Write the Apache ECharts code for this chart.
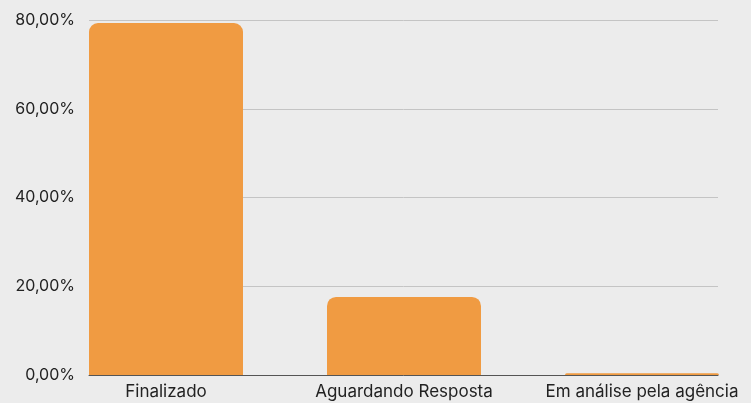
<!DOCTYPE html>
<html lang="pt">

<head>
    <meta charset="UTF-8">
    <title>Status</title>
    <style>
        html, body { margin: 0; padding: 0; background: #ececec; }
        #bar { width: 751px; height: 403px; }
    </style>
    <script src="https://cdn.jsdelivr.net/npm/echarts@6/dist/echarts.min.js"></script>
</head>

<body>
    <div id="bar"></div>
    <script>
        var categories = ['Finalizado', 'Aguardando Resposta', 'Em análise pela agência'];
        var percentValues = [79.3, 17.6, 0.4];
        var yTicks = [0, 20, 40, 60, 80];

        var fontFamily = 'Inter, "Noto Sans", sans-serif';

        function fmtPct(v) {
            return v.toFixed(2).replace('.', ',') + '%';
        }

        echarts.init(document.getElementById('bar')).setOption({
            backgroundColor: '#ececec',
            animation: false,
            grid: [
                // grid 0: gridlines + y labels, spans the bar extents
                { left: 89, right: 33, top: 20, bottom: 28, outerBoundsMode: 'none' },
                // grid 1: bars, wider so bars sit at the ends
                { left: 47, width: 714, top: 20, bottom: 28, outerBoundsMode: 'none' }
            ],
            xAxis: [
                {
                    gridIndex: 0,
                    type: 'category',
                    data: categories,
                    axisTick: { show: false },
                    axisLabel: { show: false },
                    axisLine: { show: true, lineStyle: { color: '#555', width: 1 } }
                },
                {
                    gridIndex: 1,
                    type: 'category',
                    data: categories,
                    axisTick: { show: false },
                    axisLine: { show: false },
                    axisLabel: {
                        color: '#222',
                        fontSize: 17,
                        fontFamily: fontFamily,
                        margin: 8,
                        interval: 0
                    }
                }
            ],
            yAxis: [
                {
                    gridIndex: 0,
                    type: 'value',
                    min: yTicks[0],
                    max: yTicks[yTicks.length - 1],
                    interval: 20,
                    axisTick: { show: false },
                    axisLine: { show: false },
                    axisLabel: {
                        color: '#222',
                        fontSize: 16,
                        fontFamily: fontFamily,
                        margin: 14,
                        formatter: fmtPct
                    },
                    splitLine: { show: true, lineStyle: { color: '#c4c4c4', width: 1 } }
                },
                {
                    gridIndex: 1,
                    type: 'value',
                    min: 0,
                    max: 80,
                    show: false,
                    splitLine: { show: false }
                }
            ],
            series: [
                {
                    type: 'bar',
                    xAxisIndex: 1,
                    yAxisIndex: 1,
                    barWidth: 154,
                    itemStyle: {
                        color: '#f09b42',
                        borderRadius: [9, 9, 0, 0]
                    },
                    data: percentValues
                }
            ]
        })
    </script>
</body>

</html>
